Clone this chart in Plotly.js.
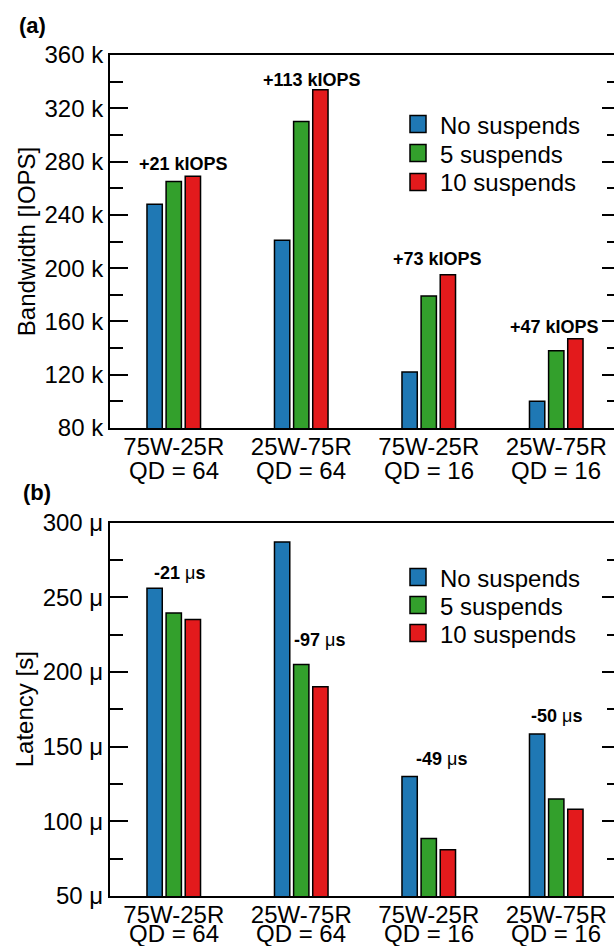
<!DOCTYPE html>
<html>
<head>
<meta charset="utf-8">
<script src="https://cdn.plot.ly/plotly-3.0.1.min.js"></script>
<style>
  html, body { margin: 0; padding: 0; overflow: hidden; background: #fff; }
  #chart { width: 626px; height: 946px; }
</style>
</head>
<body>
<div id="chart"></div>
<script>
// ---------------- data ----------------
const categories = ['75W-25R|QD = 64', '25W-75R|QD = 64', '75W-25R|QD = 16', '25W-75R|QD = 16'];
const tickLine1 = ['75W-25R', '25W-75R', '75W-25R', '25W-75R'];
const tickLine2 = ['QD = 64', 'QD = 64', 'QD = 16', 'QD = 16'];
const seriesNames = ['No suspends', '5 suspends', '10 suspends'];
const seriesColors = ['#1f78b4', '#33a02c', '#e31a1c'];

// Panel (a): bandwidth in kIOPS
const bwNone = [248, 221, 122, 100];
const bw5    = [265, 310, 179, 138];
const bw10   = [269, 334, 195, 147];
const bwLabels = ['+21 kIOPS', '+113 kIOPS', '+73 kIOPS', '+47 kIOPS'];
const bwLabelY = [278, 341.5, 206.5, 156];
const bwTickVals = [80, 120, 160, 200, 240, 280, 320, 360];
const bwTickText = ['80 k', '120 k', '160 k', '200 k', '240 k', '280 k', '320 k', '360 k'];

// Panel (b): latency in microseconds
const latNone = [256, 287, 130, 158.5];
const lat5    = [239.5, 205, 88.5, 115];
const lat10   = [235, 190, 81, 108];
const latLabels = ['<b>-21 </b>μ<b>s</b>', '<b>-97 </b>μ<b>s</b>', '<b>-49 </b>μ<b>s</b>', '<b>-50 </b>μ<b>s</b>'];
const latLabelY = [266.5, 221.5, 141.5, 170.5];
const latTickVals = [50, 100, 150, 200, 250, 300];
const latTickText = ['50 μ', '100 μ', '150 μ', '200 μ', '250 μ', '300 μ'];

// ---------------- layout helpers ----------------
const W = 626, H = 946, ML = 110, MR = 6;
const PW = W - ML - MR;
const px = v => (v - ML) / PW;       // pixel x -> paper x
const py = v => 1 - v / H;           // pixel y -> paper y
const FONT = 'Liberation Sans, Arial, Helvetica, sans-serif';

const bwLabelDx = [0.074, 0.083, 0.072, -0.01];
const latLabelDx = [0.045, 0.147, 0.1, 0];

const bwSeries = [bwNone, bw5, bw10];
const latSeries = [latNone, lat5, lat10];

const traces = [];
bwSeries.forEach((vals, i) => traces.push({
  type: 'bar', x: categories, y: vals, name: seriesNames[i],
  xaxis: 'x', yaxis: 'y', showlegend: false,
  marker: { color: seriesColors[i], line: { color: '#000', width: 1.5 } }
}));
latSeries.forEach((vals, i) => traces.push({
  type: 'bar', x: categories, y: vals, name: seriesNames[i],
  xaxis: 'x2', yaxis: 'y2', showlegend: false,
  marker: { color: seriesColors[i], line: { color: '#000', width: 1.5 } }
}));

const tickFont = { family: FONT, size: 24, color: '#000' };

function xAxis(anchor) {
  return {
    anchor: anchor, domain: [0, 1], type: 'category',
    categoryorder: 'array', categoryarray: categories,
    tickmode: 'array', tickvals: categories, ticktext: tickLine1,
    ticklabelstandoff: -4,
    showline: true, linecolor: '#000', linewidth: 2, mirror: true,
    ticks: '', showgrid: false, zeroline: false,
    tickfont: tickFont, fixedrange: true
  };
}
function yAxis(anchor, domain, range, vals, text, minorStep, title) {
  return {
    anchor: anchor, domain: domain, range: range,
    showline: true, linecolor: '#000', linewidth: 2, mirror: 'ticks',
    ticks: 'inside', ticklen: 18, tickwidth: 2, tickcolor: '#000',
    tickmode: 'array', tickvals: vals, ticktext: text,
    minor: { ticks: 'inside', ticklen: 13, tickwidth: 2, tickcolor: '#000', dtick: minorStep, tick0: range[0], showgrid: false },
    showgrid: false, zeroline: false, tickfont: tickFont,
    title: { text: title, font: { family: FONT, size: 24, color: '#000' }, standoff: 2 },
    fixedrange: true
  };
}

const annotations = [];
bwLabels.forEach((t, i) => annotations.push({
  xref: 'x', yref: 'y', x: i + bwLabelDx[i], y: bwLabelY[i], text: '<b>' + t + '</b>',
  showarrow: false, xanchor: 'center', yanchor: 'middle',
  font: { family: FONT, size: 18, color: '#000' }
}));
latLabels.forEach((t, i) => annotations.push({
  xref: 'x2', yref: 'y2', x: i + latLabelDx[i], y: latLabelY[i], text: t,
  showarrow: false, xanchor: 'center', yanchor: 'middle',
  font: { family: FONT, size: 18, color: '#000' }
}));
// second line of the category labels
tickLine2.forEach((t, i) => {
  annotations.push({ xref: 'x', yref: 'paper', x: i, y: py(470), text: t, showarrow: false,
    xanchor: 'center', yanchor: 'middle', font: tickFont });
  annotations.push({ xref: 'x2', yref: 'paper', x: i, y: py(933), text: t, showarrow: false,
    xanchor: 'center', yanchor: 'middle', font: tickFont });
});
// panel letters
annotations.push({ xref: 'paper', yref: 'paper', x: px(17), y: py(26), xanchor: 'left', yanchor: 'middle',
  text: '<b>(a)</b>', showarrow: false, font: { family: FONT, size: 22, color: '#000' } });
annotations.push({ xref: 'paper', yref: 'paper', x: px(21), y: py(492), xanchor: 'left', yanchor: 'middle',
  text: '<b>(b)</b>', showarrow: false, font: { family: FONT, size: 22, color: '#000' } });

// legends (one per panel)
const shapes = [];
const legendRowsA = [124, 153, 182];
const legendRowsB = [577, 605, 633];
[legendRowsA, legendRowsB].forEach(rows => {
  rows.forEach((r, i) => {
    shapes.push({ type: 'rect', xref: 'paper', yref: 'paper',
      x0: px(410), x1: px(426), y0: py(r + 8.5), y1: py(r - 8.5),
      fillcolor: seriesColors[i], line: { color: '#000', width: 1.5 } });
    annotations.push({ xref: 'paper', yref: 'paper', x: px(438), y: py(r + 1),
      xanchor: 'left', yanchor: 'middle', showarrow: false, text: seriesNames[i],
      font: { family: FONT, size: 24, color: '#000' } });
  });
});

const layout = {
  width: W, height: H,
  margin: { l: ML, r: MR, t: 0, b: 0, pad: 0 },
  paper_bgcolor: '#fff', plot_bgcolor: '#fff',
  barmode: 'group', bargap: 0.55, bargroupgap: 0.2,
  showlegend: false,
  xaxis: xAxis('y'),
  yaxis: yAxis('x', [py(428), py(55)], [80, 360], bwTickVals, bwTickText, 20, 'Bandwidth [IOPS]'),
  xaxis2: xAxis('y2'),
  yaxis2: yAxis('x2', [py(896), py(522.5)], [50, 300], latTickVals, latTickText, 25, 'Latency [s]'),
  annotations: annotations,
  shapes: shapes,
  font: { family: FONT, color: '#000' }
};

Plotly.newPlot('chart', traces, layout, { displayModeBar: false, staticPlot: true });
</script>
</body>
</html>
